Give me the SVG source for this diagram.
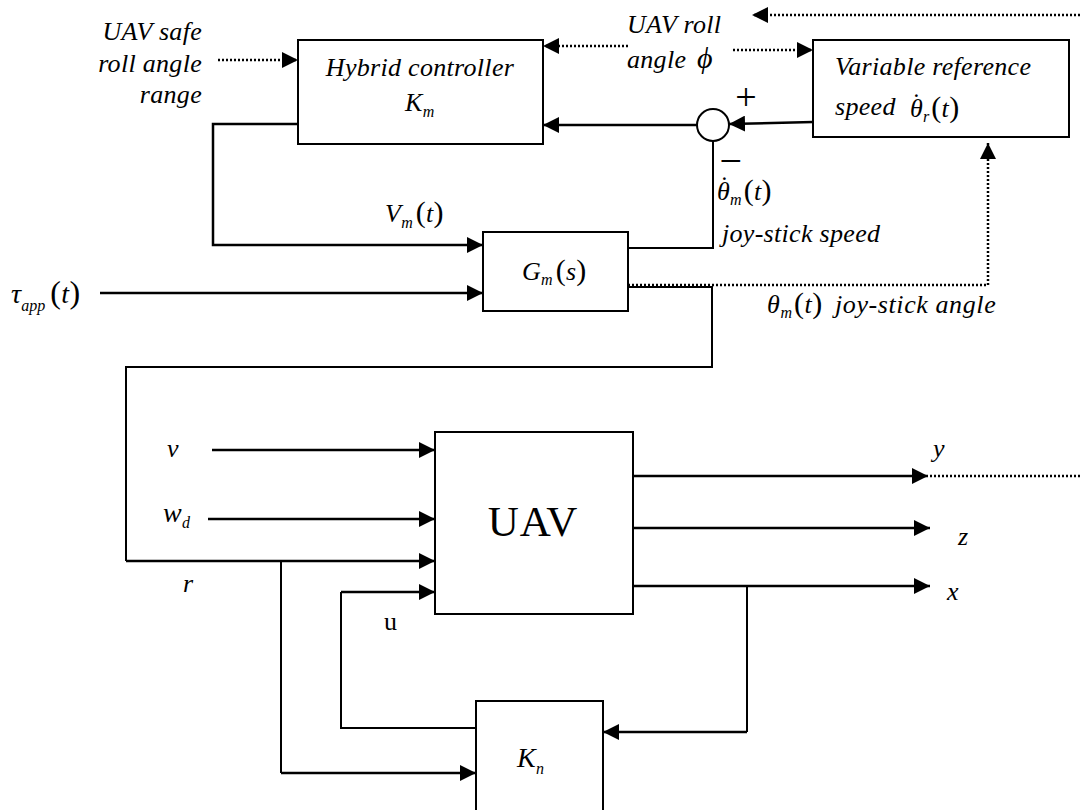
<svg xmlns="http://www.w3.org/2000/svg" width="1080" height="810" viewBox="0 0 1080 810">
<style>
.t { font-family: "Liberation Serif", "Times New Roman", serif; font-size: 26px; font-style: italic; fill: #000; letter-spacing: 0.3px; }
.up { font-style: normal; }
.sub { font-size: 16px; letter-spacing: 0; }
.par { font-style: normal; font-size: 30px; }
.ln { stroke: #000; stroke-width: 2.5; fill: none; }
.thin { stroke: #000; stroke-width: 2; fill: none; }
.dot { stroke: #000; stroke-width: 2.5; stroke-dasharray: 2 2; fill: none; }
.box { stroke: #000; stroke-width: 2; fill: #fff; }
</style>
<defs>
<marker id="ah" markerUnits="userSpaceOnUse" markerWidth="16" markerHeight="16" refX="16" refY="8" orient="auto">
<path d="M0,0 L16,8 L0,16 z" fill="#000"/>
</marker>
</defs>
<rect width="1080" height="810" fill="#fff"/>

<g id="connectors">
<path class="dot" d="M218,60 H298" marker-end="url(#ah)"/>
<path class="ln" d="M298,124 H213 V245 H483" marker-end="url(#ah)"/>
<path class="dot" d="M628,46 H543" marker-end="url(#ah)"/>
<path class="dot" d="M733,50 H813" marker-end="url(#ah)"/>
<path class="dot" d="M1080,15 H752" marker-end="url(#ah)"/>
<path class="ln" d="M813,122 L729,124" marker-end="url(#ah)"/>
<path class="ln" d="M697,125 H543" marker-end="url(#ah)"/>
<path class="thin" d="M628,248 H713 V141"/>
<path class="dot" d="M628,285 H988 V143" marker-end="url(#ah)"/>
<path class="thin" d="M628,287 H712 V367 H126 V561"/>
<path class="ln" d="M126,561 H435" marker-end="url(#ah)"/>
<path class="ln" d="M100,293 H483" marker-end="url(#ah)"/>
<path class="ln" d="M212,450 H435" marker-end="url(#ah)"/>
<path class="ln" d="M208,519 H435" marker-end="url(#ah)"/>
<path class="thin" d="M281,561 V773"/>
<path class="ln" d="M281,773 H476" marker-end="url(#ah)"/>
<path class="thin" d="M476,728 H341 V592"/>
<path class="ln" d="M341,592 H435" marker-end="url(#ah)"/>
<path class="ln" d="M633,476 H928" marker-end="url(#ah)"/>
<path class="dot" d="M930,476 H1080"/>
<path class="ln" d="M633,528 H930" marker-end="url(#ah)"/>
<path class="ln" d="M633,586 H930" marker-end="url(#ah)"/>
<path class="thin" d="M747,586 V732"/>
<path class="ln" d="M747,732 H603" marker-end="url(#ah)"/>
</g>

<g id="hybrid">
<rect class="box" x="298" y="40" width="245" height="104"/>
<text class="t" x="420" y="76" text-anchor="middle">Hybrid controller</text>
<text class="t" x="405" y="111">K<tspan class="sub" dy="6">m</tspan></text>
</g>

<g id="varref">
<rect class="box" x="813" y="40" width="256" height="97"/>
<text class="t" x="835" y="75">Variable reference</text>
<text class="t" x="835" y="115">speed</text>
<text class="t" x="910" y="117">θ<tspan class="sub" dy="5">r</tspan><tspan class="par" dy="-5" dx="2">(</tspan>t<tspan class="par">)</tspan></text>
<text class="t up" x="912" y="111">˙</text>
</g>

<g id="sum">
<circle cx="713" cy="125" r="16" fill="#fff" stroke="#000" stroke-width="2"/>
<text class="t up" x="746" y="110" text-anchor="middle" style="font-size:38px">+</text>
<text class="t up" x="731" y="174" text-anchor="middle" style="font-size:40px">−</text>
</g>

<g id="gm">
<rect class="box" x="483" y="232" width="145" height="79"/>
<text class="t" x="522" y="280">G<tspan class="sub" dy="5">m</tspan><tspan class="par" dy="-5" dx="3">(</tspan>s<tspan class="par">)</tspan></text>
</g>

<g id="uav">
<rect class="box" x="435" y="432" width="198" height="182"/>
<text class="t up" x="533" y="536" text-anchor="middle" style="font-size:43px;letter-spacing:1px">UAV</text>
</g>

<g id="kn">
<rect class="box" x="476" y="701" width="127" height="120"/>
<text class="t" x="517" y="767" style="font-size:28px">K<tspan class="sub" dy="7">n</tspan></text>
</g>

<g id="labels">
<text class="t" x="202" y="40" text-anchor="end">UAV safe</text>
<text class="t" x="202" y="72" text-anchor="end">roll angle</text>
<text class="t" x="202" y="103" text-anchor="end">range</text>
<text class="t" x="627" y="33">UAV roll</text>
<text class="t" x="627" y="68">angle</text>
<text class="t" x="697" y="68" style="font-size:30px">ϕ</text>
<text class="t" x="717" y="200">θ<tspan class="sub" dy="5">m</tspan><tspan class="par" dy="-5" dx="2">(</tspan>t<tspan class="par">)</tspan></text>
<text class="t up" x="720" y="194">˙</text>
<text class="t" x="722" y="242">joy-stick speed</text>
<text class="t" x="767" y="313" style="letter-spacing:0.6px">θ<tspan class="sub" dy="5">m</tspan><tspan class="par" dy="-5" dx="2">(</tspan>t<tspan class="par">)</tspan><tspan dx="12">joy-stick angle</tspan></text>
<text class="t" x="385" y="222">V<tspan class="sub" dy="6">m</tspan><tspan class="par" dy="-6" dx="3">(</tspan>t<tspan class="par">)</tspan></text>
<text class="t" x="11" y="303" style="font-size:28px">τ<tspan class="sub" dy="8">app</tspan><tspan class="par" dy="-8" dx="5" style="font-size:32px">(</tspan>t<tspan class="par" style="font-size:32px">)</tspan></text>
<text class="t" x="167" y="457">v</text>
<text class="t" x="163" y="522" style="font-size:28px">w<tspan class="sub" dy="6">d</tspan></text>
<text class="t" x="183" y="592">r</text>
<text class="t up" x="384" y="630">u</text>
<text class="t" x="933" y="457">y</text>
<text class="t" x="958" y="545">z</text>
<text class="t" x="947" y="600">x</text>
</g>
</svg>
